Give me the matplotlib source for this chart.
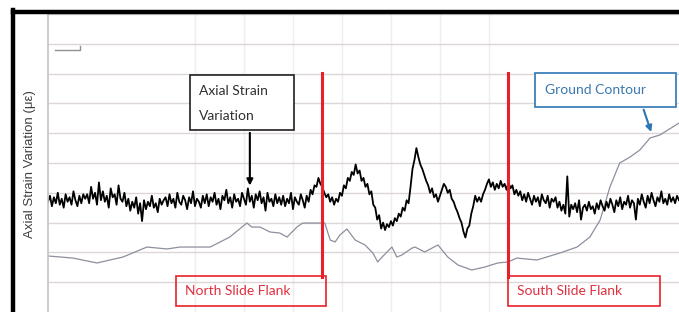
import matplotlib as mpl
mpl.use("Agg")
import matplotlib.pyplot as plt
from matplotlib.patches import Rectangle
from matplotlib.lines import Line2D
import numpy as np

plt.close('all')
plt.rcParams['font.family'] = ['Lato', 'DejaVu Sans']

# ground contour (distance m, value)
ground_x = [0, 51, 100, 153, 202, 243, 269, 331, 371, 406, 416, 433, 453, 473, 488, 508, 520, 555,
            565, 576, 586, 596, 610, 627, 647, 663, 673, 682, 702, 712, 722, 743, 749, 769, 796, 816,
            837, 865, 892, 918, 939, 957, 998, 1045, 1080, 1106, 1127, 1147, 1167, 1188, 1208, 1229,
            1249, 1288]
ground_y = [37.6, 36.2, 32.9, 36.9, 43.6, 42.3, 43.6, 43.6, 50.3, 59.7, 57.0, 57.0, 53.7, 53.0, 50.3,
            57.0, 59.7, 59.7, 59.7, 48.3, 47.0, 51.7, 55.7, 48.3, 45.0, 39.6, 33.6, 36.9, 43.6, 36.9,
            38.2, 42.9, 43.6, 40.3, 45.0, 36.9, 31.5, 28.2, 30.2, 32.9, 33.6, 36.2, 34.9, 39.6, 43.6,
            50.3, 61.7, 83.9, 100.0, 104.0, 108.7, 116.8, 118.8, 126.8]

# axial strain samples, one every 4 m
strain_step = 4.0
strain = [74, 78, 71, 77, 73, 80, 72, 76, 70, 79, 74, 77, 72, 81, 75, 71, 78, 73, 79, 76,
          79, 73, 84, 76, 80, 72, 87, 75, 81, 74, 78, 70, 83, 77, 79, 72, 85, 76, 74, 80,
          71, 76, 68, 74, 70, 77, 66, 73, 61, 75, 69, 74, 71, 78, 70, 73, 67, 76, 72, 75,
          77, 71, 79, 73, 76, 70, 80, 74, 72, 78, 75, 69, 77, 73, 81, 71, 76, 74, 70, 78,
          73, 79, 71, 77, 74, 80, 72, 76, 69, 78, 75, 82, 73, 77, 70, 79, 74, 76, 71, 80,
          76, 72, 83, 74, 78, 70, 79, 75, 81, 73, 77, 68, 80, 74, 76, 71, 79, 73, 77, 72,
          78, 71, 76, 73, 80, 69, 77, 74, 72, 79, 75, 70, 78, 74, 82, 79, 85, 84, 90, 86,
          84, 80, 77, 79, 74, 77, 72, 76, 74, 80, 78, 85, 83, 90, 88, 94, 92, 99, 93, 95,
          88, 90, 84, 86, 79, 81, 72, 70, 62, 65, 56, 60, 55, 59, 57, 61, 58, 63, 61, 66,
          64, 70, 68, 75, 73, 84, 96, 102, 110, 104, 99, 96, 92, 88, 85, 80, 83, 77, 79, 74,
          78, 82, 86, 84, 80, 82, 76, 74, 70, 67, 63, 60, 54, 50, 56, 58, 66, 71, 78, 74,
          77, 74, 79, 82, 86, 89, 84, 87, 82, 86, 83, 88, 84, 86, 82, 87, 83, 85, 79, 82,
          78, 81, 75, 79, 74, 80, 76, 72, 78, 74, 77, 71, 79, 75, 73, 78, 70, 76, 74, 77,
          70, 74, 68, 72, 66, 91, 64, 72, 69, 73, 67, 75, 62, 70, 72, 68, 74, 69, 71, 66,
          73, 69, 75, 71, 68, 74, 70, 76, 72, 67, 75, 71, 77, 69, 74, 72, 78, 70, 75, 73,
          62, 76, 72, 79, 74, 70, 78, 73, 80, 75, 71, 77, 74, 81, 73, 76, 72, 79, 74, 77,
          73, 78, 75]
strain_x = np.arange(len(strain)) * strain_step

north_flank = 559
south_flank = 939

fig = plt.figure(figsize=(6.79, 3.12), dpi=100)
ax = fig.add_axes([48/679, 0, 1 - 48/679, 298/312])
ax.set_xlim(0, 1288); ax.set_ylim(0, 200)

# grid
ax.set_yticks(np.arange(20, 201, 20))
ax.set_xticks(np.arange(300, 901, 100))
ax.grid(True, axis='y', color='#dcd6d6', lw=1.0)
ax.grid(True, axis='x', color='#eeeeee', lw=1.0)
ax.tick_params(length=0, labelleft=False, labelbottom=False)
for s in ['top', 'right', 'bottom']:
    ax.spines[s].set_visible(False)
ax.spines['left'].set_color('#c4c4c4'); ax.spines['left'].set_linewidth(1.2)
ax.set_axisbelow(True)

ax.plot(ground_x, ground_y, color='#8e8e9e', lw=0.9)
ax.plot(strain_x, strain, color='black', lw=1.3)

# red flank markers
red = '#e8202a'
ax.plot([north_flank, north_flank], [23.5, 160.4], color=red, lw=2.2)
ax.plot([south_flank, south_flank], [23.5, 160.4], color=red, lw=2.2)
ax.add_patch(Rectangle((261, 4.0), 306, 20.2, fill=False, ec=red, lw=1.2, zorder=5))
ax.add_patch(Rectangle((939, 4.0), 310, 20.2, fill=False, ec=red, lw=1.2, zorder=5))
ax.text(280, 14.1, 'North Slide Flank', color='#e03040', fontsize=10, va='center', ha='left')
ax.text(958, 14.1, 'South Slide Flank', color='#e03040', fontsize=10, va='center', ha='left')

# strain callout
ax.add_patch(Rectangle((290, 122.1), 212, 36.9, fc='white', ec='#202020', lw=1.2, zorder=5))
ax.text(308, 148, 'Axial Strain', color='#303030', fontsize=10, va='center', ha='left', zorder=6)
ax.text(308, 131.5, 'Variation', color='#303030', fontsize=10, va='center', ha='left', zorder=6)
ax.annotate('', xy=(412, 83), xytext=(412, 122.1),
            arrowprops=dict(arrowstyle='-|>', color='black', lw=1.5, mutation_scale=9))

# ground contour callout
blue = '#2e75b6'
ax.add_patch(Rectangle((994, 137.6), 288, 22.8, fc='white', ec=blue, lw=1.2, zorder=5))
ax.text(1014, 149, 'Ground Contour', color='#3a78b0', fontsize=10, va='center', ha='left', zorder=6)
ax.annotate('', xy=(1233, 119), xytext=(1214, 137.6),
            arrowprops=dict(arrowstyle='-|>', color=blue, lw=1.5, mutation_scale=9))

# leftover legend stub
ax.plot([0.011, 0.051, 0.051], [0.878, 0.878, 0.893], color='#909090', lw=1.0, transform=ax.transAxes)

fig.text(30/679, 1 - 164/312, 'Axial Strain Variation (\u03bc\u03b5)', rotation=90, fontsize=9.5,
         family=['Liberation Sans', 'DejaVu Sans'], color='#404040', va='center', ha='center')

# black frame
fig.add_artist(Line2D([13/679, 1], [1 - 11.5/312, 1 - 11.5/312], color='black', lw=3.2, transform=fig.transFigure))
fig.add_artist(Line2D([13/679, 13/679], [0, 1 - 10/312], color='black', lw=3.2, transform=fig.transFigure))

fig.savefig('out.png', dpi=100)
